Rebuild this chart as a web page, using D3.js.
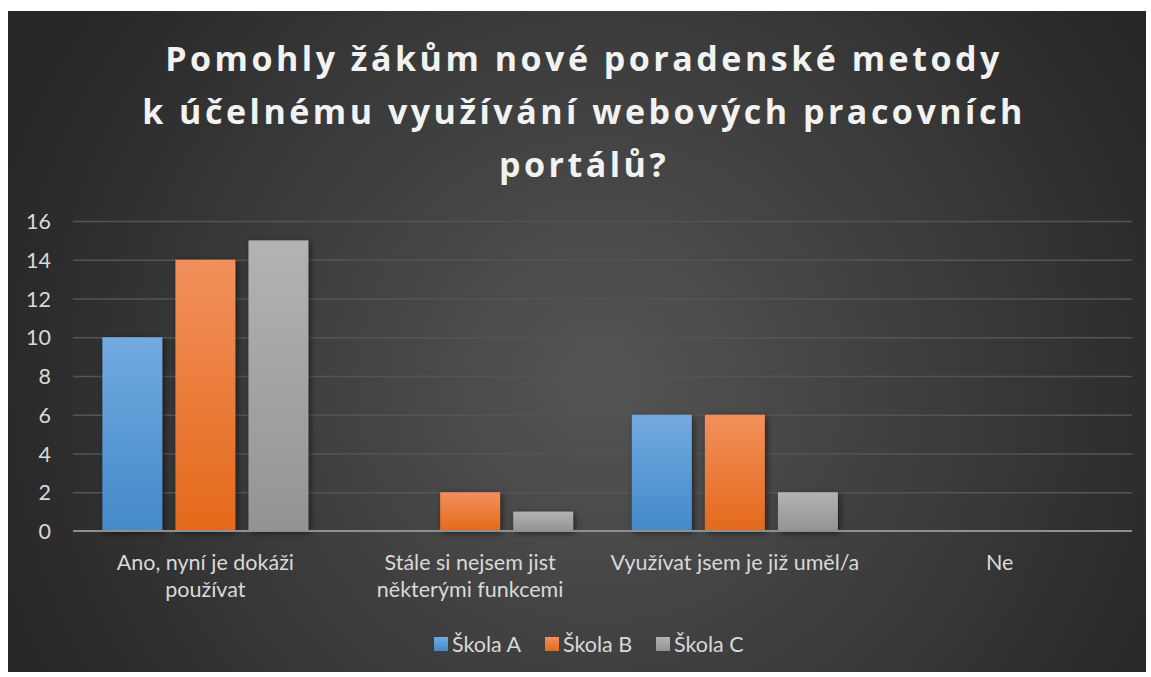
<!DOCTYPE html>
<html><head><meta charset="utf-8">
<script src="https://cdn.jsdelivr.net/npm/d3@7/dist/d3.min.js"></script>
<style>
html,body{margin:0;padding:0;background:#fff;}
svg{display:block;}
</style></head>
<body>
<svg id="chart" width="1151" height="677"></svg>
<script>
const titleLines = ["Pomohly žákům nové poradenské metody", "k účelnému využívání webových pracovních", "portálů?"];
const categories = [["Ano, nyní je dokáži","používat"],["Stále si nejsem jist","některými funkcemi"],["Využívat jsem je již uměl/a"],["Ne"]];
const seriesNames = ["Škola A","Škola B","Škola C"];
const skolaA = [10, 0, 6, 0];
const skolaB = [14, 2, 6, 0];
const skolaC = [15, 1, 2, 0];
const yTicks = [0,2,4,6,8,10,12,14,16];
const seriesValues = [skolaA, skolaB, skolaC];
const colorTop = ["#72aae0","#f2905c","#b3b3b3"];
const colorBot = ["#438ac9","#e4691a","#939393"];

const svg = d3.select("#chart");
const frame = {x:8, y:11, w:1138, h:661};
const defs = svg.append("defs");
const rg = defs.append("radialGradient").attr("id","bg").attr("gradientUnits","userSpaceOnUse")
  .attr("cx",600).attr("cy",380).attr("r",640);
rg.append("stop").attr("offset","0%").attr("stop-color","#555555");
rg.append("stop").attr("offset","100%").attr("stop-color","#262626");
seriesNames.forEach((s,i)=>{
  const lg = defs.append("linearGradient").attr("id","g"+i).attr("x1",0).attr("y1",0).attr("x2",0).attr("y2",1);
  lg.append("stop").attr("offset","0%").attr("stop-color",colorTop[i]);
  lg.append("stop").attr("offset","100%").attr("stop-color",colorBot[i]);
});
const f = defs.append("filter").attr("id","sh").attr("x","-20%").attr("y","-20%").attr("width","150%").attr("height","150%");
f.append("feDropShadow").attr("dx",2).attr("dy",2).attr("stdDeviation",3).attr("flood-color","#000").attr("flood-opacity",0.55);

svg.append("rect").attr("x",frame.x).attr("y",frame.y).attr("width",frame.w).attr("height",frame.h).attr("fill","url(#bg)");

const fontFam = "Lato, 'Open Sans', sans-serif";
const title = svg.append("text").attr("text-anchor","middle").attr("fill","#f2f2f2")
  .attr("font-family","'Open Sans', sans-serif").attr("font-weight",700).attr("font-size",34)
  .attr("letter-spacing",3.5);
titleLines.forEach((l,i)=>{
  title.append("tspan").attr("x",584).attr("y",71+i*53).text(l);
});

const plot = {l:73, r:1132, t:221, b:531};
const x0 = d3.scaleBand().domain(d3.range(categories.length)).range([plot.l, plot.r]).paddingInner(0.222).paddingOuter(0.111);
const x1 = d3.scaleBand().domain(d3.range(seriesNames.length)).range([0, x0.bandwidth()]).paddingInner(0.18);
const y = d3.scaleLinear().domain([0,16]).range([plot.b, plot.t]);

const yAxis = d3.axisLeft(y).tickValues(yTicks).tickSize(-(plot.r-plot.l)).tickPadding(18);
const ga = svg.append("g").attr("transform",`translate(${plot.l},0)`).call(yAxis);
ga.select(".domain").remove();
ga.selectAll(".tick line").attr("stroke","#545454").attr("stroke-width",1.5);
ga.selectAll(".tick text").attr("fill","#d9d9d9").attr("font-family",fontFam).attr("font-size",21.5).attr("x",-22).attr("text-anchor","end").attr("dy","0.35em");
ga.selectAll(".tick").filter(d=>d===0).select("line").remove();

const groups = svg.append("g").selectAll("g").data(categories).join("g")
  .attr("transform",(d,i)=>`translate(${x0(i)},0)`);
groups.selectAll("rect").data((d,i)=>seriesValues.map((s,j)=>({j, v:s[i]})).filter(e=>e.v>0)).join("rect")
  .attr("x",d=>x1(d.j)).attr("width",x1.bandwidth())
  .attr("y",d=>y(d.v)).attr("height",d=>y(0)-y(d.v))
  .attr("fill",d=>`url(#g${d.j})`).attr("filter","url(#sh)");

svg.append("line").attr("x1",plot.l).attr("x2",plot.r).attr("y1",y(0)).attr("y2",y(0)).attr("stroke","#8f8f8f").attr("stroke-width",2.2);

const cl = svg.append("g").selectAll("text").data(categories).join("text")
  .attr("text-anchor","middle").attr("fill","#d9d9d9").attr("font-family",fontFam).attr("font-size",21.5);
cl.each(function(d,i){
  const t = d3.select(this);
  d.forEach((line,k)=>t.append("tspan").attr("x",x0(i)+x0.bandwidth()/2).attr("y",570+k*27).text(line));
});

const legX = [434, 545, 656];
const leg = svg.append("g").selectAll("g").data(seriesNames).join("g")
  .attr("transform",(d,i)=>`translate(${legX[i]},637)`);
leg.append("rect").attr("width",14).attr("height",14).attr("fill",(d,i)=>`url(#g${i})`);
leg.append("text").attr("x",18).attr("y",7).attr("dy","0.35em").attr("fill","#d9d9d9").attr("font-family",fontFam).attr("font-size",21.5).text(d=>d);
</script>
</body></html>
